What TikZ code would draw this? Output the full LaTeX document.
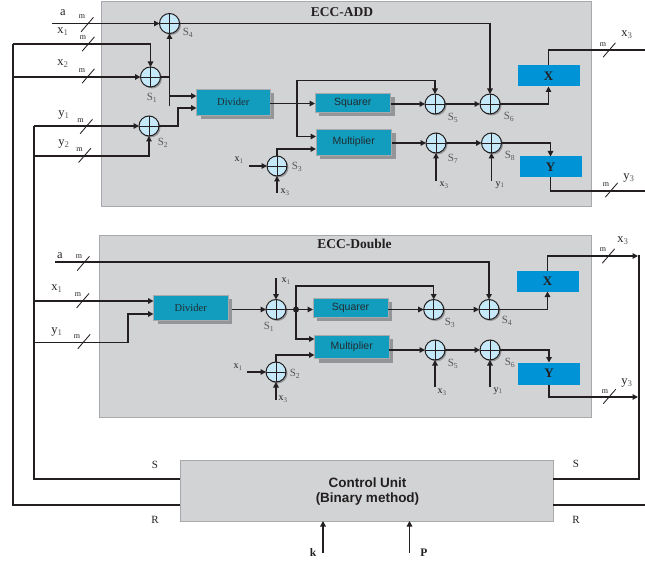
\documentclass[tikz,border=0pt]{standalone}
\usepackage{fontspec}
\setmainfont{Liberation Serif}
\setsansfont{Liberation Sans}
\usetikzlibrary{arrows.meta}
\definecolor{panelgray}{HTML}{D1D3D4}
\definecolor{panelline}{HTML}{A7A9AC}
\definecolor{shadegray}{HTML}{939598}
\definecolor{tealbox}{HTML}{129CBD}
\definecolor{bluebox}{HTML}{0093D5}
\definecolor{adderfill}{HTML}{C6E9FA}
\definecolor{ink}{HTML}{231F20}
\definecolor{subgray}{HTML}{58595B}
\newcommand{\fs}[1]{\fontsize{#1}{#1}\selectfont}
\newcommand{\lsub}[2]{#1\textsubscript{\color{subgray}#2}}
\tikzset{
  wire/.style={draw=ink,line width=1.35pt,line join=miter},
  thinwire/.style={draw=ink,line width=1.1pt},
  bus/.style={draw=ink,line width=1.5pt,line join=miter},
  tip/.style={-{Triangle[length=5.5pt,width=5.5pt]}},
  tick/.style={draw=ink,line width=.85pt},
  panel/.style={draw=panelline,line width=.9pt,fill=panelgray,inner sep=0,outer sep=0},
  funcbox/.style={draw=panelline,line width=.6pt,fill=tealbox,text=ink!90!tealbox,inner sep=0,outer sep=0,
    preaction={draw=none,fill=shadegray,transform canvas={xshift=4pt,yshift=-4pt}}},
  regbox/.style={fill=bluebox,text=ink,inner sep=0,outer sep=0,font=\bfseries\fs{13}},
  adder/.style={circle,draw=ink,line width=1pt,fill=adderfill,minimum size=20pt,inner sep=0,outer sep=0,
    preaction={draw=none,fill=shadegray,transform canvas={xshift=1.5pt,yshift=-1.5pt}},
    path picture={
      \draw[ink,line width=.8pt] (path picture bounding box.north)--(path picture bounding box.south);
      \draw[ink,line width=.8pt] (path picture bounding box.west)--(path picture bounding box.east);}},
  lab/.style={inner sep=0,outer sep=0,text=ink},
  biglab/.style={lab,font=\fs{12.5}},
  smlab/.style={lab,font=\fs{10}},
  slab/.style={lab,text=subgray,font=\fs{11}},
  mlab/.style={lab,font=\fs{8}},
  ctllab/.style={lab,font=\fs{11}},
  title/.style={lab,font=\bfseries\fs{13.5}},
}
\newcommand{\slashmark}[2]{\draw[tick] (#1-6.2,#2+7.2) -- (#1+6.2,#2-7.2);}
\begin{document}
\begin{tikzpicture}[x=1pt,y=-1pt]
\useasboundingbox (0,0) rectangle (645,564);
% panels
\node[panel,minimum width=490.5pt,minimum height=205.5pt] (addp) at (346.25,103.75) {};
\node[panel,minimum width=492pt,minimum height=182pt] (dblp) at (345,326.5) {};
\node[panel,minimum width=373pt,minimum height=61pt] (cu) at (366.7,490.5) {};
\node[lab,font=\sffamily\bfseries\fs{13.5}] (cu1) at (367.5,482.5) {Control Unit};
\node[lab,font=\sffamily\bfseries\fs{13.5}] (cu2) at (367.5,499.5) {(Binary method)};
\node[title] (t1) at (342,12) {ECC-ADD};
\node[title] (t2) at (354.5,244) {ECC-Double};
% ADD blocks
\node[funcbox,minimum width=73.5pt,minimum height=25.5pt,font=\fs{10.5}] (dv1) at (233.25,102.25) {Divider};
\node[funcbox,minimum width=75.5pt,minimum height=19pt,font=\sffamily\fs{10.5}] (sq1) at (352.75,102.5) {Squarer};
\node[funcbox,minimum width=75.5pt,minimum height=25.5pt,font=\sffamily\fs{10.5}] (mu1) at (353.75,142.25) {Multiplier};
\node[regbox,minimum width=62pt,minimum height=21pt] (rx1) at (548.5,76) {X};
\node[regbox,minimum width=62pt,minimum height=21pt] (ry1) at (550.5,167) {Y};
\node[adder] (a4) at (169.5,23.5) {};
\node[adder] (a1) at (150.5,77) {};
\node[adder] (a2) at (149,126) {};
\node[adder] (a3) at (277,166) {};
\node[adder] (a5) at (435,104) {};
\node[adder] (a6) at (490,104) {};
\node[adder] (a7) at (436,143) {};
\node[adder] (a8) at (491.5,143) {};
% ADD free ends
\coordinate (ia) at (52,23.5);
\coordinate (ix1) at (13,44);
\coordinate (ix2) at (13,77);
\coordinate (iy1) at (34,126);
\coordinate (iy2) at (34,156);
\coordinate (j1) at (169.5,77);
\coordinate (dvA) at (196.5,96);
\coordinate (dvB) at (196.5,108);
\coordinate (dvO) at (270,103.5);
\coordinate (sqI) at (315,103.5);
\coordinate (muA) at (316,136.5);
\coordinate (muB) at (316,149);
\coordinate (a3x) at (249,166);
\coordinate (a3s) at (277,193);
\coordinate (a7s) at (436,181);
\coordinate (a8s) at (491.5,181);
\coordinate (ox3) at (645,50);
\coordinate (oy3) at (645,191);
\draw[wire,tip] (ia) -- (a4.west);
\draw[wire,tip] (ix1) -| (a1.north);
\draw[wire,tip] (ix2) -- (a1.west);
\draw[wire,tip] (iy1) -- (a2.west);
\draw[wire,tip] (iy2) -| (a2.south);
\draw[wire] (a1.east) -- (j1);
\draw[wire,tip] (dvA) ++(-27,0) -- (dvA);
\draw[wire,tip] (a4.south) ++(0,72.5) -- (a4.south);
\draw[wire,tip] (a2.east) -- ++(19,0) |- (dvB);
\draw[wire,tip] (dvO) -- (sqI);
\draw[wire,tip] (297,103.5) |- (435,80.5) -- (a5.north);
\draw[wire,tip] (297,103.5) |- (muA);
\draw[wire,tip] (a3x) -- (a3.west);
\draw[wire,tip] (a3s) -- (a3.south);
\draw[wire,tip] (a3.north) |- (muB);
\draw[thinwire,tip] (a4.east) -| (a6.north);
\draw[wire,tip] (sq1.east) ++(0,1.5) -- (a5.west);
\draw[wire,tip] (a5.east) -- (a6.west);
\draw[wire,tip] (a6.east) -| (rx1.south);
\draw[wire] (rx1.north) |- (ox3);
\draw[wire,tip] (mu1.east) ++(0,.75) -- (a7.west);
\draw[wire,tip] (a7.east) -- (a8.west);
\draw[wire,tip] (a8.east) -| (ry1.north);
\draw[wire] (ry1.south) |- (oy3);
\draw[wire,tip] (a7s) -- (a7.south);
\draw[wire,tip] (a8s) -- (a8.south);
% Double blocks
\node[funcbox,minimum width=74.5pt,minimum height=25pt,font=\fs{10.5}] (dv2) at (190.75,307.5) {Divider};
\node[funcbox,minimum width=75pt,minimum height=19pt,font=\sffamily\fs{10.5}] (sq2) at (350.5,307.5) {Squarer};
\node[funcbox,minimum width=74.5pt,minimum height=23.5pt,font=\sffamily\fs{10.5}] (mu2) at (351.75,346.75) {Multiplier};
\node[regbox,minimum width=62pt,minimum height=21pt] (rx2) at (547.5,281) {X};
\node[regbox,minimum width=62pt,minimum height=22pt] (ry2) at (549,373.5) {Y};
\node[adder] (b1) at (276,309.5) {};
\node[adder] (b2) at (276,372) {};
\node[adder] (b3) at (433.7,309.5) {};
\node[adder] (b4) at (489,309.5) {};
\node[adder] (b5) at (435,350) {};
\node[adder] (b6) at (490,350) {};
\coordinate (ka) at (55,262);
\coordinate (kx1) at (34,301);
\coordinate (ky1) at (34,342.5);
\coordinate (dwA) at (153.5,301);
\coordinate (dwB) at (153.5,314);
\coordinate (dwO) at (232,309.5);
\coordinate (b1n) at (276,278);
\coordinate (jn) at (296,309.5);
\coordinate (sqJ) at (313,309.5);
\coordinate (mwA) at (314.5,339);
\coordinate (mwB) at (314.5,355);
\coordinate (b2x) at (247,372);
\coordinate (b2s) at (276,400);
\coordinate (b5s) at (435,387);
\coordinate (b6s) at (490,387);
\coordinate (px3) at (638,256);
\coordinate (py3) at (638,397);
\draw[wire,tip] (ka) -| (b4.north);
\draw[wire,tip] (kx1) -- (dwA);
\draw[wire,tip] (ky1) -- (128,342.5) |- (dwB);
\draw[wire,tip] (dwO) -- (b1.west);
\draw[wire,tip] (b1n) -- (b1.north);
\draw[wire,tip] (b1.east) -- (sqJ);
\fill[ink] (jn) circle (3pt);
\draw[wire,tip] (jn) |- (433.7,286) -- (b3.north);
\draw[wire,tip] (jn) |- (mwA);
\draw[wire,tip] (b2x) -- (b2.west);
\draw[wire,tip] (b2s) -- (b2.south);
\draw[wire,tip] (b2.north) |- (mwB);
\draw[wire,tip] (sq2.east) ++(0,2) -- (b3.west);
\draw[wire,tip] (b3.east) -- (b4.west);
\draw[wire,tip] (b4.east) -| (rx2.south);
\draw[wire,tip] (rx2.north) |- (px3);
\draw[wire,tip] (mu2.east) ++(0,3.25) -- (b5.west);
\draw[wire,tip] (b5.east) -- (b6.west);
\draw[wire,tip] (b6.east) -| (ry2.north);
\draw[wire,tip] (ry2.south) |- (py3);
\draw[wire,tip] (b5s) -- (b5.south);
\draw[wire,tip] (b6s) -- (b6.south);
% control buses
\coordinate (cuSL) at (180.2,479);
\coordinate (cuRL) at (180.2,505);
\coordinate (cuSR) at (553.2,479);
\coordinate (cuRR) at (553.2,505);
\coordinate (oR) at (645,505);
\coordinate (kk) at (323,553);
\coordinate (kp) at (409.5,553);
\coordinate (cuK) at (323,521);
\coordinate (cuP) at (409.5,521);
\draw[bus] (ix1) -- (13,505) -- (cuRL);
\draw[bus] (iy1) -- (34,479) -- (cuSL);
\draw[bus] (cuSR) -- (639,479) -- (639,255);
\draw[bus] (cuRR) -- (oR);
\draw[wire,tip] (kk) -- (cuK);
\draw[wire,tip] (kp) -- (cuP);
% slashes
\slashmark{87.3}{24.5}
\slashmark{88.3}{44}
\slashmark{88.3}{76}
\slashmark{86.3}{126.5}
\slashmark{84.8}{155.3}
\slashmark{609.3}{50}
\slashmark{611.5}{190}
\slashmark{83.3}{263.5}
\slashmark{82.8}{300.7}
\slashmark{84}{341.5}
\slashmark{608.5}{256}
\slashmark{609.5}{396.5}
% m labels
\node[mlab] (m1) at (82,17) {m};
\node[mlab] (m2) at (83,38) {m};
\node[mlab] (m3) at (82,71) {m};
\node[mlab] (m4) at (80.5,121) {m};
\node[mlab] (m5) at (79.5,150) {m};
\node[mlab] (m6) at (603,45) {m};
\node[mlab] (m7) at (606,185) {m};
\node[mlab] (m8) at (79,257) {m};
\node[mlab] (m9) at (78,295) {m};
\node[mlab] (m10) at (77,337) {m};
\node[mlab] (m11) at (603,250) {m};
\node[mlab] (m12) at (605,392) {m};
% input labels
\node[biglab] (l1) at (63,13) {a};
\node[biglab] (l2) at (63,32) {\lsub{x}{1}};
\node[biglab] (l3) at (63,64) {\lsub{x}{2}};
\node[biglab] (l4) at (64,115) {\lsub{y}{1}};
\node[biglab] (l5) at (64,144) {\lsub{y}{2}};
\node[biglab] (l6) at (627,35) {\lsub{x}{3}};
\node[biglab] (l7) at (629,178) {\lsub{y}{3}};
\node[biglab] (l8) at (60,256) {a};
\node[biglab] (l9) at (57,289) {\lsub{x}{1}};
\node[biglab] (l10) at (57,332) {\lsub{y}{1}};
\node[biglab] (l11) at (623,241) {\lsub{x}{3}};
\node[biglab] (l12) at (627,383) {\lsub{y}{3}};
% small labels
\node[smlab] (s1) at (239,160) {\lsub{x}{1}};
\node[smlab] (s2) at (285,192) {\lsub{x}{3}};
\node[smlab] (s3) at (444,185) {\lsub{x}{3}};
\node[smlab] (s4) at (500,185) {\lsub{y}{1}};
\node[smlab] (s5) at (286,281) {\lsub{x}{1}};
\node[smlab] (s6) at (238,367) {\lsub{x}{1}};
\node[smlab] (s7) at (283,399) {\lsub{x}{3}};
\node[smlab] (s8) at (442,392) {\lsub{x}{3}};
\node[smlab] (s9) at (498,391) {\lsub{y}{1}};
% adder names
\node[slab] (n1) at (152,98) {\lsub{S}{1}};
\node[slab] (n2) at (163,143) {\lsub{S}{2}};
\node[slab] (n3) at (297,167) {\lsub{S}{3}};
\node[slab] (n4) at (188,33) {\lsub{S}{4}};
\node[slab] (n5) at (453,118) {\lsub{S}{5}};
\node[slab] (n6) at (509,117) {\lsub{S}{6}};
\node[slab] (n7) at (453,159) {\lsub{S}{7}};
\node[slab] (n8) at (510,156) {\lsub{S}{8}};
\node[slab] (d1) at (269,327) {\lsub{S}{1}};
\node[slab] (d2) at (295,374) {\lsub{S}{2}};
\node[slab] (d3) at (450,323) {\lsub{S}{3}};
\node[slab] (d4) at (507,321) {\lsub{S}{4}};
\node[slab] (d5) at (453,364) {\lsub{S}{5}};
\node[slab] (d6) at (510,363) {\lsub{S}{6}};
% control labels
\node[ctllab] (c1) at (155,464.5) {S};
\node[ctllab] (c2) at (155,520) {R};
\node[ctllab] (c3) at (576,464) {S};
\node[ctllab] (c4) at (576,519.5) {R};
\node[lab,font=\bfseries\fs{11.5}] (k1) at (313,552.5) {k};
\node[lab,font=\bfseries\fs{11.5}] (k2) at (424,552.5) {P};
\end{tikzpicture}
\end{document}
